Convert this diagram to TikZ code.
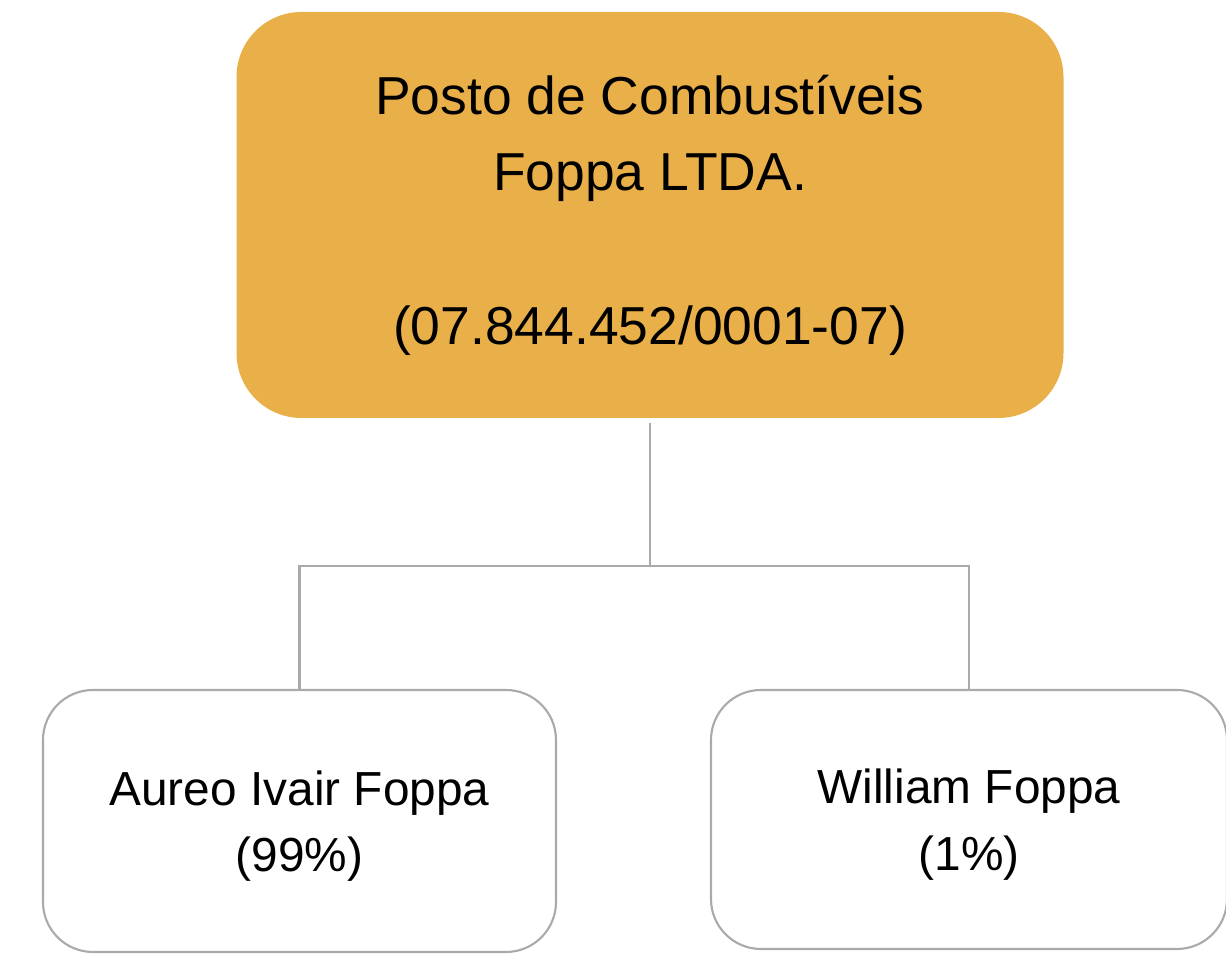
\documentclass[tikz,border=0pt]{standalone}
\usepackage{fontspec}
\setmainfont{Liberation Sans}
\usepackage{tikz}
\usetikzlibrary{positioning}
\definecolor{gold}{HTML}{E9AF48}
\definecolor{linegray}{HTML}{AAAAAA}

\begin{document}
\begin{tikzpicture}[
    firm/.style = {rectangle, rounded corners=0.65cm, fill=gold, inner sep=0pt,
                   minimum width=8.27cm, minimum height=4.06cm, align=center,
                   font=\fontsize{15.2}{21.8}\selectfont},
    owner/.style = {rectangle, rounded corners=0.5cm, draw=linegray, line width=0.6pt,
                    fill=white, inner sep=0pt, minimum width=5.13cm, align=center,
                    font=\fontsize{13.6}{18.8}\selectfont},
    link/.style = {draw=linegray, line width=0.6pt}]
  \useasboundingbox (0,0) rectangle (12.26,-9.54);

  \node (posto) [firm] at (6.5,-2.15) {Posto de Combustíveis\\Foppa LTDA.\\[21.8pt](07.844.452/0001-07)};
  \node (aureo) [owner, minimum height=2.62cm] at (2.995,-8.21) {\\[-6pt]Aureo Ivair Foppa\\(99\%)};
  \node (william) [owner, minimum width=5.16cm, minimum height=2.59cm] at (9.69,-8.195) {\\[-6pt]William Foppa\\(1\%)};
  \coordinate (mid) at (6.5,-5.66);

  \path [link]
    (posto.south) ++(0,-0.04) -- (mid)
    (mid) -| (aureo.north)
    (mid) -| (william.north);
\end{tikzpicture}
\end{document}
